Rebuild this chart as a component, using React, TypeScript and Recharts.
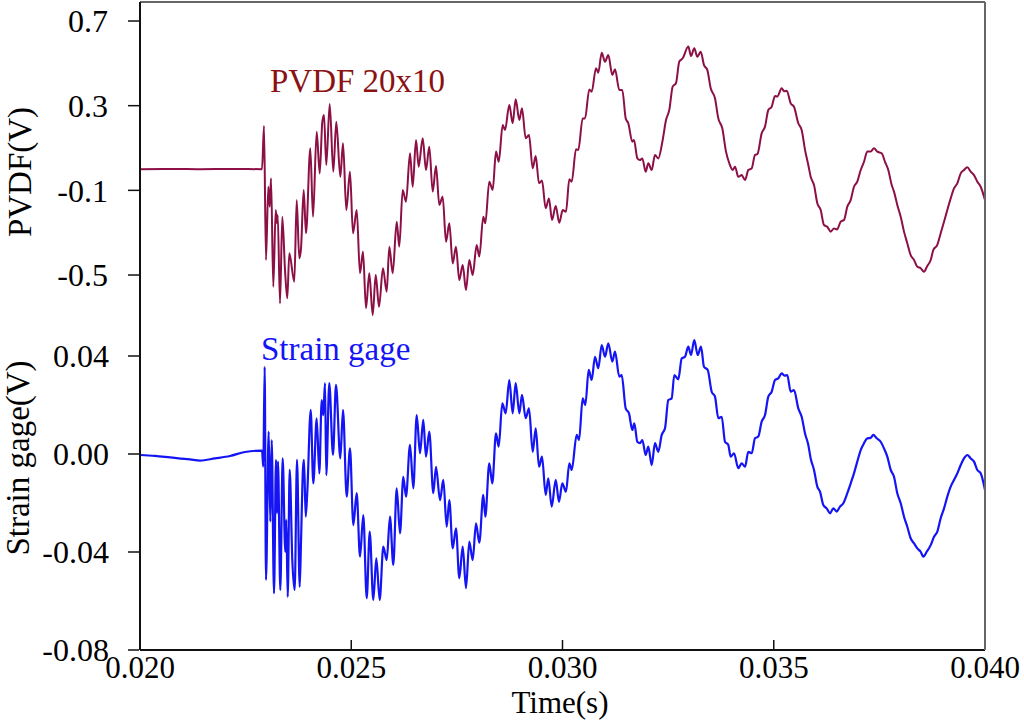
import React from "react";
import { LineChart, Line, XAxis, YAxis } from "recharts";

// [time (s), volts]
const pvdfSamples: [number, number][] = [
  [0.02, 0.0], [0.0208, 0.001], [0.02142, 0.0], [0.0222, 0.001], [0.022888, 0.0],
  [0.022935, 0.204], [0.022982, -0.429], [0.023037, -0.083], [0.02307, -0.177], [0.023101, -0.043],
  [0.023155, -0.555], [0.023212, -0.193], [0.023243, -0.256], [0.023259, -0.217], [0.023314, -0.634],
  [0.023368, -0.225], [0.023432, -0.476], [0.023486, -0.61], [0.023534, -0.397], [0.023652, -0.532],
  [0.023709, -0.146], [0.02377, -0.421], [0.023811, -0.374], [0.023874, -0.098], [0.023929, -0.303],
  [0.024031, 0.099], [0.024095, -0.225], [0.024182, 0.177], [0.024253, -0.02], [0.024315, 0.224],
  [0.024355, 0.256], [0.024409, 0.02], [0.02449, 0.308], [0.024575, -0.012], [0.024646, 0.224],
  [0.024741, -0.036], [0.024805, 0.122], [0.024883, -0.193], [0.02497, -0.012], [0.025041, -0.303],
  [0.025129, -0.193], [0.025207, -0.492], [0.025278, -0.39], [0.025349, -0.657], [0.025427, -0.492],
  [0.025508, -0.689], [0.025579, -0.5], [0.025657, -0.65], [0.025751, -0.468], [0.025839, -0.579],
  [0.025901, -0.366], [0.025981, -0.492], [0.026076, -0.248], [0.026137, -0.366], [0.026218, -0.098],
  [0.026296, -0.154], [0.026391, 0.075], [0.026454, -0.083], [0.026533, 0.138], [0.026596, 0.012],
  [0.026691, 0.146], [0.026769, -0.004], [0.026847, 0.106], [0.026928, -0.106], [0.027006, 0.015],
  [0.027084, -0.169], [0.027164, -0.13], [0.027243, -0.343], [0.027321, -0.256], [0.027401, -0.445],
  [0.027479, -0.366], [0.027557, -0.524], [0.027638, -0.453], [0.027716, -0.571], [0.027794, -0.429],
  [0.027874, -0.5], [0.027969, -0.358], [0.028031, -0.413], [0.028125, -0.225], [0.028173, -0.256],
  [0.028267, -0.059], [0.028348, -0.098], [0.028426, 0.083], [0.02849, 0.035], [0.028585, 0.209],
  [0.028639, 0.185], [0.028741, 0.303], [0.028821, 0.217], [0.028892, 0.33], [0.028978, 0.232],
  [0.029041, 0.288], [0.029129, 0.146], [0.029207, 0.161], [0.029295, 0.004], [0.029366, 0.062],
  [0.029444, -0.067], [0.029515, -0.054], [0.029602, -0.185], [0.02968, -0.138], [0.029751, -0.24],
  [0.029839, -0.174], [0.029924, -0.253], [0.030005, -0.193], [0.030083, -0.201], [0.030161, -0.048],
  [0.030218, -0.059], [0.03032, 0.094], [0.030374, 0.091], [0.030478, 0.24], [0.030533, 0.24],
  [0.030634, 0.377], [0.030691, 0.366], [0.030793, 0.477], [0.030847, 0.456], [0.030928, 0.55],
  [0.031006, 0.508], [0.031084, 0.539], [0.031179, 0.445], [0.031243, 0.472], [0.031344, 0.374],
  [0.031415, 0.374], [0.031496, 0.24], [0.031557, 0.217], [0.031652, 0.13], [0.031692, 0.138],
  [0.031771, 0.051], [0.031834, 0.043], [0.031889, 0.051], [0.031969, -0.012], [0.032031, 0.028],
  [0.032111, -0.004], [0.032189, 0.067], [0.032267, 0.051], [0.032371, 0.138], [0.03245, 0.232],
  [0.032528, 0.28], [0.032608, 0.39], [0.032686, 0.406], [0.032764, 0.508], [0.032845, 0.524],
  [0.032978, 0.579], [0.033041, 0.535], [0.033119, 0.571], [0.033191, 0.531], [0.033271, 0.555],
  [0.033349, 0.492], [0.033427, 0.469], [0.033508, 0.382], [0.033609, 0.335], [0.033688, 0.24],
  [0.033782, 0.193], [0.03387, 0.083], [0.033948, 0.028], [0.034028, -0.004], [0.034083, 0.012],
  [0.034161, -0.036], [0.034241, -0.028], [0.03432, -0.051], [0.034398, -0.004], [0.034478, 0.004],
  [0.034556, 0.067], [0.034615, 0.072], [0.034714, 0.169], [0.034793, 0.201], [0.034871, 0.28],
  [0.034951, 0.295], [0.03503, 0.346], [0.035084, 0.343], [0.035188, 0.382], [0.035243, 0.368],
  [0.035306, 0.371], [0.035401, 0.311], [0.035479, 0.295], [0.035581, 0.217], [0.035661, 0.185],
  [0.03574, 0.091], [0.035818, 0.02], [0.035874, -0.036], [0.035953, -0.075], [0.036031, -0.161],
  [0.036111, -0.193], [0.036189, -0.264], [0.036267, -0.272], [0.036348, -0.295], [0.036426, -0.28],
  [0.036497, -0.285], [0.036584, -0.248], [0.036663, -0.24], [0.036741, -0.177], [0.036821, -0.146],
  [0.036899, -0.083], [0.036977, -0.059], [0.037058, -0.004], [0.037136, 0.035], [0.037214, 0.083],
  [0.037295, 0.083], [0.037373, 0.099], [0.037451, 0.083], [0.037555, 0.075], [0.037633, 0.035],
  [0.037711, -0.004], [0.037792, -0.075], [0.037846, -0.106], [0.037924, -0.169], [0.038005, -0.225],
  [0.038083, -0.295], [0.038161, -0.35], [0.038241, -0.406], [0.03832, -0.429], [0.038398, -0.461],
  [0.038478, -0.468], [0.038556, -0.484], [0.038634, -0.457], [0.038715, -0.429], [0.038776, -0.382],
  [0.038871, -0.358], [0.038951, -0.303], [0.03903, -0.248], [0.039108, -0.193], [0.039188, -0.138],
  [0.039266, -0.091], [0.039345, -0.067], [0.039425, -0.02], [0.039503, -0.004], [0.039581, 0.009],
  [0.039662, -0.012], [0.03974, -0.028], [0.039818, -0.059], [0.039898, -0.083], [0.04, -0.146],
];

const strainSamples: [number, number][] = [
  [0.02, -0.0004], [0.020355, -0.0008], [0.02071, -0.0014], [0.021183, -0.0022], [0.02142, -0.0027],
  [0.021775, -0.0018], [0.02213, -0.0008], [0.022485, 0.0008], [0.022888, 0.0014], [0.022918, -0.0052],
  [0.022951, 0.0356], [0.022982, -0.0514], [0.023046, 0.0091], [0.023084, -0.0276], [0.023117, 0.0057],
  [0.023172, -0.0569], [0.023219, -0.0024], [0.023243, -0.0242], [0.023266, -0.0031], [0.023321, -0.0555],
  [0.023377, -0.0018], [0.023439, -0.0399], [0.023463, -0.0269], [0.023496, -0.0583], [0.023543, -0.0065],
  [0.023605, -0.0433], [0.023661, -0.0555], [0.023716, -0.0024], [0.02378, -0.0542], [0.023811, -0.0358],
  [0.023858, -0.0058], [0.023882, -0.0024], [0.023922, -0.0256], [0.02396, -0.0154], [0.02404, 0.018],
  [0.024102, -0.012], [0.024182, 0.0146], [0.024244, -0.0079], [0.024301, 0.022], [0.024338, 0.0159],
  [0.024379, 0.0289], [0.024409, -0.0086], [0.02448, 0.0289], [0.024568, -0.0004], [0.024639, 0.0282],
  [0.024741, -0.0018], [0.024805, 0.018], [0.024892, -0.0174], [0.02497, 0.0023], [0.025049, -0.029],
  [0.025129, -0.016], [0.025207, -0.0419], [0.025285, -0.0249], [0.025366, -0.0589], [0.025437, -0.0317],
  [0.025522, -0.0596], [0.025593, -0.0426], [0.025673, -0.0596], [0.025759, -0.0378], [0.025839, -0.0433],
  [0.025917, -0.0256], [0.025995, -0.0453], [0.026076, -0.014], [0.026154, -0.0324], [0.026232, -0.0093],
  [0.026296, -0.0174], [0.026391, 0.0037], [0.026469, -0.014], [0.026549, 0.0159], [0.026627, 0.0003],
  [0.026705, 0.0139], [0.026769, -0.0011], [0.026847, 0.0091], [0.026942, -0.016], [0.027006, -0.0052],
  [0.027101, -0.0188], [0.027179, -0.0106], [0.027259, -0.0297], [0.027321, -0.0188], [0.027401, -0.0385],
  [0.027479, -0.0303], [0.027557, -0.0507], [0.027638, -0.0378], [0.027716, -0.0548], [0.027794, -0.0358],
  [0.027874, -0.0433], [0.027953, -0.0283], [0.028031, -0.0362], [0.028125, -0.0167], [0.028173, -0.0256],
  [0.028267, -0.0038], [0.028338, -0.012], [0.028426, 0.0084], [0.02849, 0.003], [0.028575, 0.0207],
  [0.028655, 0.0166], [0.028741, 0.0302], [0.028821, 0.0166], [0.028892, 0.0289], [0.028978, 0.0166],
  [0.029041, 0.0241], [0.029129, 0.0146], [0.029207, 0.0186], [0.029295, 0.0009], [0.029366, 0.0105],
  [0.029444, -0.0052], [0.029515, -0.0011], [0.029602, -0.0167], [0.029664, -0.0099], [0.029744, -0.0215],
  [0.029839, -0.0106], [0.029917, -0.0195], [0.029995, -0.012], [0.030083, -0.0154], [0.030161, -0.0038],
  [0.030218, -0.0065], [0.030336, 0.0078], [0.030391, 0.0057], [0.030478, 0.0227], [0.03054, 0.02],
  [0.03062, 0.0343], [0.030691, 0.0302], [0.030769, 0.0397], [0.030847, 0.035], [0.030928, 0.0445],
  [0.031006, 0.0397], [0.031084, 0.0452], [0.031179, 0.0377], [0.031243, 0.0418], [0.031344, 0.0316],
  [0.031401, 0.0322], [0.031496, 0.0186], [0.031574, 0.0166], [0.031652, 0.0098], [0.0317, 0.0125],
  [0.031771, 0.005], [0.031834, 0.0044], [0.031889, 0.0057], [0.031969, -0.0004], [0.032031, 0.003],
  [0.032111, -0.0045], [0.032189, 0.0044], [0.032267, 0.0009], [0.032348, 0.0078], [0.032426, 0.0105],
  [0.032504, 0.022], [0.032584, 0.0227], [0.032646, 0.0322], [0.032741, 0.0305], [0.032821, 0.039],
  [0.032899, 0.0397], [0.032978, 0.0438], [0.033041, 0.0404], [0.033119, 0.0465], [0.0332, 0.0404],
  [0.033278, 0.0438], [0.033349, 0.0356], [0.033437, 0.0343], [0.033531, 0.0254], [0.033609, 0.0234],
  [0.033688, 0.0146], [0.033768, 0.0152], [0.033846, 0.005], [0.033924, 0.0037], [0.033981, -0.0011],
  [0.034059, 0.0003], [0.034161, -0.0058], [0.034241, -0.0038], [0.03432, -0.0052], [0.034398, 0.0009],
  [0.034478, 0.0003], [0.034556, 0.0064], [0.034634, 0.0071], [0.034714, 0.0132], [0.034793, 0.0159],
  [0.034871, 0.0234], [0.034951, 0.0254], [0.03503, 0.0302], [0.035108, 0.0309], [0.035188, 0.0329],
  [0.035254, 0.032], [0.03532, 0.0322], [0.035401, 0.0254], [0.035479, 0.0261], [0.035581, 0.0186],
  [0.035661, 0.0152], [0.03574, 0.0084], [0.035818, 0.0037], [0.035874, -0.0018], [0.035953, -0.0065],
  [0.036031, -0.0133], [0.036095, -0.0154], [0.036173, -0.0208], [0.036253, -0.0222], [0.036331, -0.0242],
  [0.03641, -0.0222], [0.03649, -0.0235], [0.036568, -0.0215], [0.036646, -0.0201], [0.036741, -0.016],
  [0.036821, -0.012], [0.036899, -0.0079], [0.036977, -0.0031], [0.037058, 0.0016], [0.037136, 0.0044],
  [0.037214, 0.0064], [0.037295, 0.0066], [0.037356, 0.0078], [0.037437, 0.0064], [0.037531, 0.005],
  [0.037609, 0.0023], [0.037688, -0.0011], [0.037768, -0.0065], [0.037846, -0.0093], [0.037924, -0.016],
  [0.038005, -0.0201], [0.038083, -0.0256], [0.038161, -0.0297], [0.038241, -0.0344], [0.03832, -0.0365],
  [0.038398, -0.0385], [0.038478, -0.0399], [0.03854, -0.0419], [0.03862, -0.0399], [0.038715, -0.0372],
  [0.038793, -0.0338], [0.038871, -0.0317], [0.038951, -0.0262], [0.03903, -0.0222], [0.039108, -0.0174],
  [0.039188, -0.0133], [0.039266, -0.0106], [0.039345, -0.0079], [0.039425, -0.0045], [0.039503, -0.0018],
  [0.039581, -0.0004], [0.039662, -0.0018], [0.03974, -0.0031], [0.039818, -0.0065], [0.039898, -0.0079],
  [0.04, -0.0147],
];

const timeTicks = [0.02, 0.025, 0.03, 0.035, 0.04];
const pvdfTicks = [0.7, 0.3, -0.1, -0.5];
const strainTicks = [0.04, 0.0, -0.04, -0.08];

const pvdfData = pvdfSamples.map(([t, v]) => ({ t, v }));
const strainData = strainSamples.map(([t, v]) => ({ t, v }));

const FONT = "'Liberation Serif', 'Times New Roman', serif";
const yTickStyle = { fontFamily: FONT, fontSize: 32, fill: "#000" };
const xTickStyle = { fontFamily: FONT, fontSize: 31, fill: "#000" };

export default function App() {
  return (
    <div style={{ position: "absolute", left: 0, top: 0, width: 1024, height: 720, background: "#fff", overflow: "hidden" }}>
      {/* axes get 1px of room each: recharts skips drawing an axis whose box is 0 wide */}
      <LineChart width={1024} height={720} margin={{ top: 1, right: 38, bottom: 69, left: 138 }}>
        <XAxis
          dataKey="t"
          type="number"
          domain={[0.02, 0.04]}
          ticks={timeTicks}
          allowDataOverflow
          height={1}
          tickSize={-10}
          tickMargin={16}
          tickFormatter={(v: number) => v.toFixed(3)}
          tick={xTickStyle}
          axisLine={{ stroke: "#111", strokeWidth: 2 }}
          tickLine={{ stroke: "#111", strokeWidth: 1.5 }}
        />
        <XAxis
          xAxisId="frame"
          dataKey="t"
          type="number"
          orientation="top"
          domain={[0.02, 0.04]}
          height={1}
          tick={false}
          tickLine={false}
          axisLine={{ stroke: "#666", strokeWidth: 2 }}
        />
        <YAxis
          yAxisId="pvdf"
          type="number"
          domain={[-2.2715, 0.7898]}
          ticks={pvdfTicks}
          allowDataOverflow
          width={1}
          tickSize={12}
          tickMargin={20}
          tickFormatter={(v: number) => v.toFixed(1)}
          tick={yTickStyle}
          axisLine={{ stroke: "#111", strokeWidth: 2 }}
          tickLine={{ stroke: "#111", strokeWidth: 1.5 }}
        />
        <YAxis
          yAxisId="strain"
          type="number"
          domain={[-0.08, 0.18449]}
          ticks={strainTicks}
          allowDataOverflow
          width={1}
          tickSize={11}
          tickMargin={19}
          tickFormatter={(v: number) => v.toFixed(2)}
          tick={yTickStyle}
          axisLine={false}
          tickLine={{ stroke: "#111", strokeWidth: 1.5 }}
        />
        <YAxis
          yAxisId="frame"
          orientation="right"
          type="number"
          domain={[0, 1]}
          width={1}
          tick={false}
          tickLine={false}
          axisLine={{ stroke: "#666", strokeWidth: 2 }}
        />
        <Line
          yAxisId="pvdf"
          data={pvdfData}
          dataKey="v"
          type="monotone"
          stroke="#8c0f46"
          strokeWidth={2}
          dot={false}
          isAnimationActive={false}
        />
        <Line
          yAxisId="strain"
          data={strainData}
          dataKey="v"
          type="monotone"
          stroke="#1414f5"
          strokeWidth={2.2}
          dot={false}
          isAnimationActive={false}
        />
      </LineChart>
      <svg width={1024} height={720} style={{ position: "absolute", left: 0, top: 0, pointerEvents: "none" }}>
        <g fontFamily={FONT} fontSize={33}>
          <text x={31} y={172} textAnchor="middle" transform="rotate(-90 31 172)" fill="#000">PVDF(V)</text>
          <text x={29} y={458} textAnchor="middle" transform="rotate(-90 29 458)" fill="#000">Strain gage(V)</text>
          <text x={560} y={713} textAnchor="middle" fontSize={31} fill="#000">Time(s)</text>
          <text x={270} y={92} fill="#8b1212">PVDF 20x10</text>
          <text x={261} y={360} fill="#1414f5">Strain gage</text>
        </g>
      </svg>
    </div>
  );
}
